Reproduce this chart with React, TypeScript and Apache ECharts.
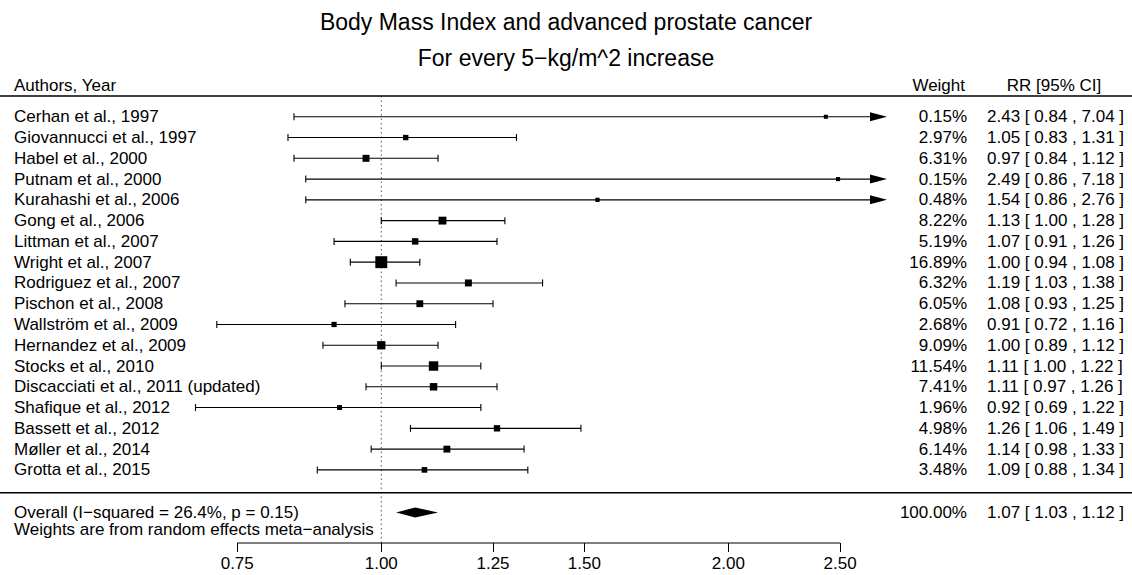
import React, { useEffect, useRef } from "react";
import * as echarts from "echarts";

const authors = [
  "Cerhan et al., 1997",
  "Giovannucci et al., 1997",
  "Habel et al., 2000",
  "Putnam et al., 2000",
  "Kurahashi et al., 2006",
  "Gong et al., 2006",
  "Littman et al., 2007",
  "Wright et al., 2007",
  "Rodriguez et al., 2007",
  "Pischon et al., 2008",
  "Wallström et al., 2009",
  "Hernandez et al., 2009",
  "Stocks et al., 2010",
  "Discacciati et al., 2011 (updated)",
  "Shafique et al., 2012",
  "Bassett et al., 2012",
  "Møller et al., 2014",
  "Grotta et al., 2015",
];
const rr = [2.43, 1.05, 0.97, 2.49, 1.54, 1.13, 1.07, 1.0, 1.19, 1.08, 0.91, 1.0, 1.11, 1.11, 0.92, 1.26, 1.14, 1.09];
const lower = [0.84, 0.83, 0.84, 0.86, 0.86, 1.0, 0.91, 0.94, 1.03, 0.93, 0.72, 0.89, 1.0, 0.97, 0.69, 1.06, 0.98, 0.88];
const upper = [7.04, 1.31, 1.12, 7.18, 2.76, 1.28, 1.26, 1.08, 1.38, 1.25, 1.16, 1.12, 1.22, 1.26, 1.22, 1.49, 1.33, 1.34];
const weights = [0.15, 2.97, 6.31, 0.15, 0.48, 8.22, 5.19, 16.89, 6.32, 6.05, 2.68, 9.09, 11.54, 7.41, 1.96, 4.98, 6.14, 3.48];

const overallRR = 1.07;
const overallLower = 1.03;
const overallUpper = 1.12;
const overallWeight = 100.0;
const overallLabel = "Overall (I\u2212squared = 26.4%, p = 0.15)";
const weightsNote = "Weights are from random effects meta\u2212analysis";

const tickValues = [0.75, 1.0, 1.25, 1.5, 2.0, 2.5];

const titleText = "Body Mass Index and advanced prostate cancer";
const subtitleText = "For every 5\u2212kg/m^2 increase";

// layout
const FONT = "Liberation Sans, Arial, Helvetica, sans-serif";
const FS = 17;
const X_MIN = -0.4;
const X_MAX = 1.01;
const Y_MAX = 21.52;
const GRID_LEFT = 181;
const GRID_WIDTH = 706;
const GRID_TOP = 96;
const GRID_HEIGHT = 447;
const OVERALL_ROW = 20.05;
const SEP_ROW = 19.1;
const LABEL_X = 14;
const WEIGHT_RIGHT = 967;
const RR_LEFT = 987;

const fmt = (v: number) => v.toFixed(2);
const ciText = (r: number, l: number, u: number) => `${fmt(r)} [ ${fmt(l)} , ${fmt(u)} ]`;

export default function App() {
  const ref = useRef<HTMLDivElement>(null);
  useEffect(() => {
    if (!ref.current) return;
    const chart = echarts.init(ref.current, null, { renderer: "svg" });

    const studyData = authors.map((_, i) => [i + 1, rr[i], lower[i], upper[i], weights[i]]);

    const txt = (text: string, x: number, y: number, align: string) => ({
      type: "text",
      style: { text, x, y, fill: "#000", font: `${FS}px ${FONT}`, align, verticalAlign: "middle" },
    });

    const option: any = {
      animation: false,
      backgroundColor: "#fff",
      title: [
        {
          text: titleText,
          left: "center",
          top: 5,
          textStyle: { fontSize: 23, fontWeight: "normal", fontFamily: FONT, color: "#000" },
        },
        {
          text: subtitleText,
          left: "center",
          top: 41,
          textStyle: { fontSize: 23, fontWeight: "normal", fontFamily: FONT, color: "#000" },
        },
      ],
      grid: { left: GRID_LEFT, width: GRID_WIDTH, top: GRID_TOP, height: GRID_HEIGHT },
      xAxis: {
        type: "value",
        position: "bottom",
        min: X_MIN,
        max: X_MAX,
        axisLine: { show: false, onZero: false },
        splitLine: { show: false },
        axisTick: {
          show: true,
          customValues: tickValues.map((v) => Math.log(v)),
          length: 9,
          lineStyle: { color: "#000", width: 1 },
        },
        axisLabel: {
          customValues: tickValues.map((v) => Math.log(v)),
          formatter: (v: number) => fmt(Math.exp(v)),
          fontSize: FS,
          fontFamily: FONT,
          color: "#000",
          margin: 12,
        },
      },
      yAxis: { type: "value", min: 0, max: Y_MAX, inverse: true, show: false },
      graphic: [
        {
          type: "text",
          style: { text: "Authors, Year", x: LABEL_X, y: 85, fill: "#000", font: `${FS}px ${FONT}`, verticalAlign: "middle" },
        },
        {
          type: "text",
          style: { text: "Weight", x: WEIGHT_RIGHT - 2, y: 85, fill: "#000", font: `${FS}px ${FONT}`, align: "right", verticalAlign: "middle" },
        },
        {
          type: "text",
          style: { text: "RR [95% CI]", x: 1054, y: 85, fill: "#000", font: `${FS}px ${FONT}`, align: "center", verticalAlign: "middle" },
        },
      ],
      series: [
        {
          type: "line",
          data: [[0, 0], [0, Y_MAX]],
          symbol: "none",
          silent: true,
          lineStyle: { type: [1.5, 3], color: "#555", width: 1 },
          z: 1,
        },
        {
          type: "line",
          data: [[Math.log(tickValues[0]), Y_MAX], [Math.log(tickValues[tickValues.length - 1]), Y_MAX]],
          symbol: "none",
          silent: true,
          clip: false,
          lineStyle: { type: "solid", color: "#000", width: 1 },
          z: 3,
        },
        {
          type: "custom",
          clip: false,
          silent: true,
          data: [[0, 0], [0, SEP_ROW]],
          renderItem: (params: any, api: any) => {
            const y = api.coord([0, api.value(1)])[1];
            return {
              type: "line",
              shape: { x1: 0, y1: y, x2: 1132, y2: y },
              style: { stroke: "#000", lineWidth: 1.3 },
            };
          },
          z: 2,
        },
        {
          type: "custom",
          clip: false,
          silent: true,
          data: studyData,
          renderItem: (params: any, api: any) => {
            const idx = params.dataIndex;
            const row = api.value(0);
            const r = api.value(1);
            const lo = api.value(2);
            const hi = api.value(3);
            const w = api.value(4);
            const y = api.coord([0, row])[1];
            const xMaxPx = api.coord([X_MAX, row])[0];
            const xMinPx = api.coord([X_MIN, row])[0];
            let xl = api.coord([Math.log(lo), row])[0];
            let xr = api.coord([Math.log(hi), row])[0];
            const xc = api.coord([Math.log(r), row])[0];
            const arrowR = xr > xMaxPx;
            if (arrowR) xr = xMaxPx;
            if (xl < xMinPx) xl = xMinPx;
            const side = 4 + 0.47 * w;
            const st = { stroke: "#000", lineWidth: 1.1 };
            const children: any[] = [
              { type: "line", shape: { x1: xl, y1: y, x2: arrowR ? xr - 10 : xr, y2: y }, style: st },
              { type: "line", shape: { x1: xl, y1: y - 3.5, x2: xl, y2: y + 3.5 }, style: st },
            ];
            if (arrowR) {
              children.push({
                type: "polygon",
                shape: { points: [[xr - 17, y - 4.5], [xr, y], [xr - 17, y + 4.5]] },
                style: { fill: "#000" },
              });
            } else {
              children.push({ type: "line", shape: { x1: xr, y1: y - 3.5, x2: xr, y2: y + 3.5 }, style: st });
            }
            children.push({
              type: "rect",
              shape: { x: xc - side / 2, y: y - side / 2, width: side, height: side },
              style: { fill: "#000" },
            });
            children.push(txt(authors[idx], LABEL_X, y, "left"));
            children.push(txt(w.toFixed(2) + "%", WEIGHT_RIGHT, y, "right"));
            children.push(txt(ciText(r, lo, hi), RR_LEFT, y, "left"));
            return { type: "group", children };
          },
          z: 5,
        },
        {
          type: "custom",
          clip: false,
          silent: true,
          data: [[OVERALL_ROW, overallRR, overallLower, overallUpper, overallWeight]],
          renderItem: (params: any, api: any) => {
            const row = api.value(0);
            const r = api.value(1);
            const lo = api.value(2);
            const hi = api.value(3);
            const w = api.value(4);
            const y = api.coord([0, row])[1];
            const xl = api.coord([Math.log(lo), row])[0];
            const xr = api.coord([Math.log(hi), row])[0];
            const xc = api.coord([Math.log(r), row])[0];
            return {
              type: "group",
              children: [
                {
                  type: "polygon",
                  shape: { points: [[xl, y], [xc, y - 5], [xr, y], [xc, y + 5]] },
                  style: { fill: "#000" },
                },
                txt(overallLabel, LABEL_X, y, "left"),
                txt(weightsNote, LABEL_X, y + 17.5, "left"),
                txt(w.toFixed(2) + "%", WEIGHT_RIGHT, y, "right"),
                txt(ciText(r, lo, hi), RR_LEFT, y, "left"),
              ],
            };
          },
          z: 5,
        },
      ],
    };
    chart.setOption(option);
    return () => chart.dispose();
  }, []);
  return (
    <div
      ref={ref}
      style={{ position: "fixed", left: 0, top: 0, width: 1132, height: 575, background: "#fff" }}
    />
  );
}
